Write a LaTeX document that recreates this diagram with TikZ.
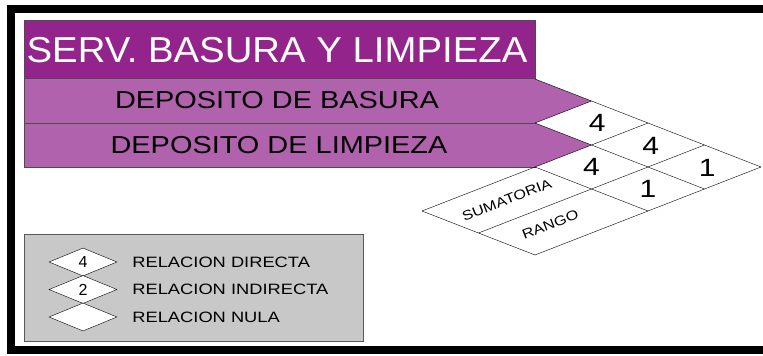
\documentclass[tikz,border=0pt]{standalone}
\usepackage{fontspec}
\setmainfont{Liberation Sans}
\usepackage{graphicx}
\usetikzlibrary{positioning,shapes.geometric}
\definecolor{SrvPurple}{RGB}{146, 36, 140}
\definecolor{DepPurple}{RGB}{176, 98, 172}
\definecolor{LegGray}{RGB}{200, 200, 200}
% wide lettering as in the drawing
\newcommand{\wtext}[2][1.2]{\scalebox{#1}[1]{#2}}

\begin{document}
\begin{tikzpicture}[x=1pt, y=-1pt,
    rowlabel/.style={font=\fontsize{24.5}{24.5}\selectfont, inner sep=0pt},
    cellnum/.style={font=\fontsize{25}{25}\selectfont, inner sep=0pt},
    bandlabel/.style={font=\fontsize{13.5}{13.5}\selectfont, inner sep=0pt, rotate=21.3},
    legdiam/.style={diamond, draw, fill=white, aspect=2.4, minimum width=68pt,
                    minimum height=28pt, inner sep=0pt, font=\fontsize{16}{16}\selectfont},
    legtext/.style={font=\fontsize{15}{15}\selectfont, inner sep=0pt}]
    \clip (0,0) rectangle (763,356);
    % frame
    \draw[line width=8pt] (11,8.5) rectangle (800,349.5);

    % header and rows
    \fill[SrvPurple] (24,20) rectangle (535,78);
    \fill[DepPurple] (24,78) rectangle (535,167);
    \draw[black!70] (24,20) rectangle (535,78);
    \draw[black!70] (24,78) rectangle (535,123);
    \draw[black!70] (24,123) rectangle (535,167);
    \node[font=\fontsize{36}{36}\selectfont, text=white, inner sep=0pt] (title) at (277,50) {\wtext[1.065]{SERV. BASURA Y LIMPIEZA}};
    \node[rowlabel] (basura) at (277,100.5) {\wtext[1.18]{DEPOSITO DE BASURA}};
    \node[rowlabel] (limpieza) at (279,145) {\wtext[1.18]{DEPOSITO DE LIMPIEZA}};

    % relation matrix
    \begin{scope}[shift={(535,167)}, x={(56.5pt,-22pt)}, y={(56.5pt,22pt)}]
        \fill[DepPurple] (-2,2) -- (-1,2) -- (-1,1) -- cycle;
        \fill[DepPurple] (-1,1) -- (0,1) -- (0,0) -- cycle;
        \draw[thin] (-2,2) -- (2,2);
        \draw[thin] (-1,1) -- (2,1);
        \draw[thin] (0,0) -- (2,0);
        \draw[thin] (0,-2) -- (2,-2);
        \draw[thin] (-1,1) -- (-1,2);
        \draw[thin] (0,-2) -- (0,2);
        \draw[thin] (1,-2) -- (1,2);
        \draw[thin] (2,-2) -- (2,2);
        \node[cellnum] (r12) at (-0.45,1.55) {\wtext{4}};
        \node[cellnum] (s1) at (0.55,1.5) {\wtext{4}};
        \node[cellnum] (g1) at (1.55,1.5) {\wtext{1}};
        \node[cellnum] (s2) at (0.5,0.5) {\wtext{4}};
        \node[cellnum] (g2) at (1.5,0.5) {\wtext{1}};
        \node[bandlabel] (suma) at (0.5,-1) {\wtext{SUMATORIA}};
        \node[bandlabel] (rango) at (1.45,-1.18) {\wtext{RANGO}};
    \end{scope}

    % legend
    \draw[black!65, fill=LegGray] (24,234) rectangle (363,341);
    \node[legdiam] (leg4) at (83,262) {4};
    \node[legdiam] (leg2) at (83,289.5) {2};
    \node[legdiam] (leg0) at (83,317) {};
    \node[legtext, right=15pt of leg4.east] (txt4) {\wtext[1.22]{RELACION DIRECTA}};
    \node[legtext, right=15pt of leg2.east] (txt2) {\wtext[1.22]{RELACION INDIRECTA}};
    \node[legtext, right=15pt of leg0.east] (txt0) {\wtext[1.22]{RELACION NULA}};
\end{tikzpicture}
\end{document}
